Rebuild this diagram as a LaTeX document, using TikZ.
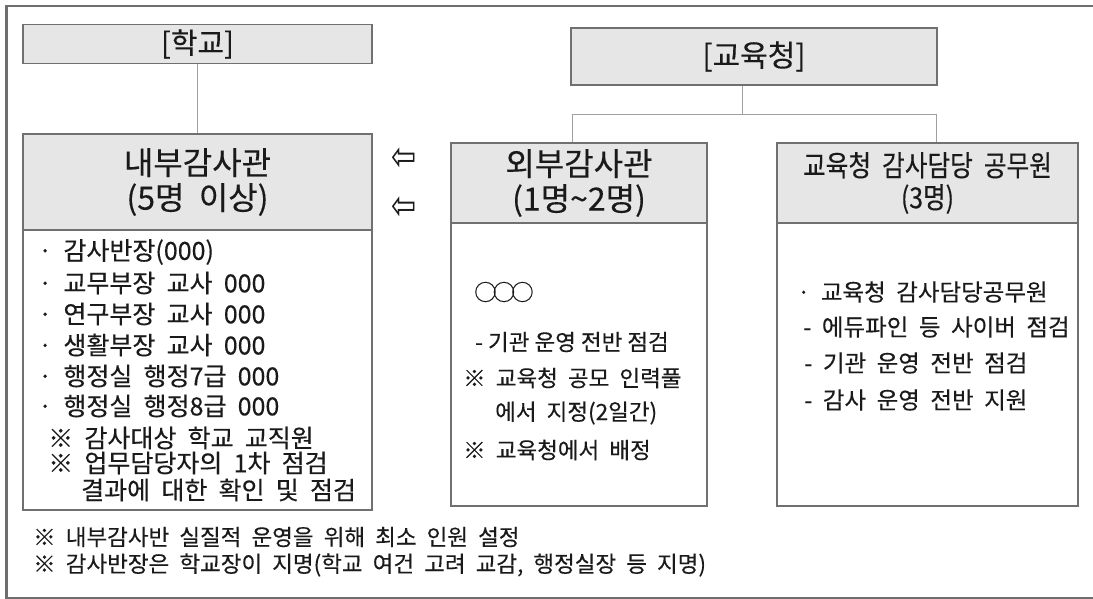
\documentclass[tikz,border=0pt]{standalone}
\usepackage{fontspec}
\setmainfont{Noto Sans CJK KR}[WordSpace=2.0, FakeBold=0.3]
\newfontfamily\narrowfont{Noto Sans CJK KR}[WordSpace=2.0, FakeBold=0.3, FakeStretch=0.85]
\newfontfamily\tightfont{Noto Sans CJK KR}[FakeBold=0.3]
\newfontfamily\symfont{DejaVu Sans}
\definecolor{framegray}{HTML}{6E6E6E}
\definecolor{boxgray}{HTML}{707070}
\definecolor{headfill}{HTML}{E6E6E6}
\definecolor{conngray}{HTML}{A0A0A0}
\definecolor{inkcol}{HTML}{1A1A1A}
\tikzset{
  titlebox/.style={draw=boxgray, line width=1.6pt, fill=headfill, inner sep=0pt, text=inkcol},
  headbox/.style={draw=boxgray, line width=1.6pt, fill=headfill, inner sep=0pt, align=center, text=inkcol},
  bodybox/.style={draw=boxgray, line width=1.6pt, fill=white, inner sep=0pt},
  conn/.style={draw=conngray, line width=0.9pt},
  bodytxt/.style={inner sep=0pt, anchor=west, text=inkcol, font=\fontsize{25}{29}\selectfont},
  stafftxt/.style={inner sep=0pt, anchor=west, text=inkcol, font=\fontsize{23.5}{28}\selectfont},
  notetxt/.style={inner sep=0pt, anchor=west, text=inkcol, font=\fontsize{22.5}{27}\selectfont},
  foottxt/.style={inner sep=0pt, anchor=west, text=inkcol, font=\fontsize{22.5}{27}\selectfont},
  arrowtxt/.style={inner sep=0pt, text=inkcol, font=\symfont\fontsize{30}{30}\selectfont, yscale=1.35, transform shape},
}
\begin{document}
\begin{tikzpicture}[x=1pt,y=-1pt]
\useasboundingbox (0,0) rectangle (1093,599);
% outer frame (top, left, bottom)
\draw[framegray, line width=2.4pt] (1093,6) -- (6.5,6) -- (6.5,598) -- (1093,598);

% school side
\node[titlebox, minimum width=349pt, minimum height=39pt, font=\fontsize{29}{32}\selectfont] (school) at (197.5,44) {[학교]};
\node[bodybox, minimum width=349pt, minimum height=280pt] (innerbody) at (197.5,370) {};
\node[headbox, minimum width=349pt, minimum height=96pt, font=\fontsize{32}{35}\selectfont] (innerhead) at (197.5,182) {내부감사관\\(5명 이상)};
\draw[conn] (school.south) -- (innerhead.north);

\node[bodytxt] (i1) at (38,252) {· 감사반장(000)};
\node[bodytxt] (i2) at (38,283) {· 교무부장 교사 000};
\node[bodytxt] (i3) at (38,314) {· 연구부장 교사 000};
\node[bodytxt] (i4) at (38,345) {· 생활부장 교사 000};
\node[bodytxt] (i5) at (38,376) {· 행정실 행정7급 000};
\node[bodytxt] (i6) at (38,406) {· 행정실 행정8급 000};
\node[bodytxt] (i7) at (48,438) {※ 감사대상 학교 교직원};
\node[bodytxt] (i8) at (48,463) {※ 업무담당자의 1차 점검};
\node[bodytxt] (i9) at (81,490) {결과에 대한 확인 및 점검};

% arrows
\node[arrowtxt] (arrA) at (404.5,159) {⇦};
\node[arrowtxt] (arrB) at (404.5,208) {⇦};

% office side
\node[titlebox, minimum width=366pt, minimum height=57pt, font=\fontsize{30}{33}\selectfont] (office) at (754,56.5) {[교육청]};
\node[bodybox, minimum width=256pt, minimum height=283pt] (outerbody) at (579,364.5) {};
\node[headbox, minimum width=256pt, minimum height=80pt, font=\fontsize{32}{35}\selectfont] (outerhead) at (579,183) {외부감사관\\(1명\textasciitilde 2명)};
\node[bodybox, minimum width=301pt, minimum height=283pt] (staffbody) at (927.5,364.5) {};
\node[headbox, minimum width=301pt, minimum height=80pt, font=\narrowfont\fontsize{29}{32}\selectfont] (staffhead) at (927.5,183) {교육청 감사담당 공무원\\(3명)};

\coordinate (jM) at (742,114);
\coordinate (jL) at (572,114);
\coordinate (jR) at (936,114);
\draw[conn] (office.south -| jM) -- (jM);
\draw[conn] (outerhead.north -| jL) -- (jL) -- (jR) -- (staffhead.north -| jR);

\node[notetxt] (o1) at (474,292) {○\kern-4pt○\kern-4pt○};
\node[notetxt, font=\tightfont\fontsize{22.5}{27}\selectfont] (o2) at (475,342) {- 기관 운영 전반 점검};
\node[notetxt] (o3) at (463,378) {※ 교육청 공모 인력풀};
\node[notetxt] (o4) at (495,413) {에서 지정(2일간)};
\node[notetxt] (o5) at (463,450) {※ 교육청에서 배정};

\node[stafftxt] (s1) at (797,292) {· 교육청 감사담당공무원};
\node[stafftxt] (s2) at (803,327) {- 에듀파인 등 사이버 점검};
\node[stafftxt] (s3) at (804,363) {- 기관 운영 전반 점검};
\node[stafftxt] (s4) at (804,400) {- 감사 운영 전반 지원};

% bottom notes
\node[foottxt] (n1) at (33,537) {※ 내부감사반 실질적 운영을 위해 최소 인원 설정};
\node[foottxt] (n2) at (33,565) {※ 감사반장은 학교장이 지명(학교 여건 고려 교감, 행정실장 등 지명)};
\end{tikzpicture}
\end{document}
